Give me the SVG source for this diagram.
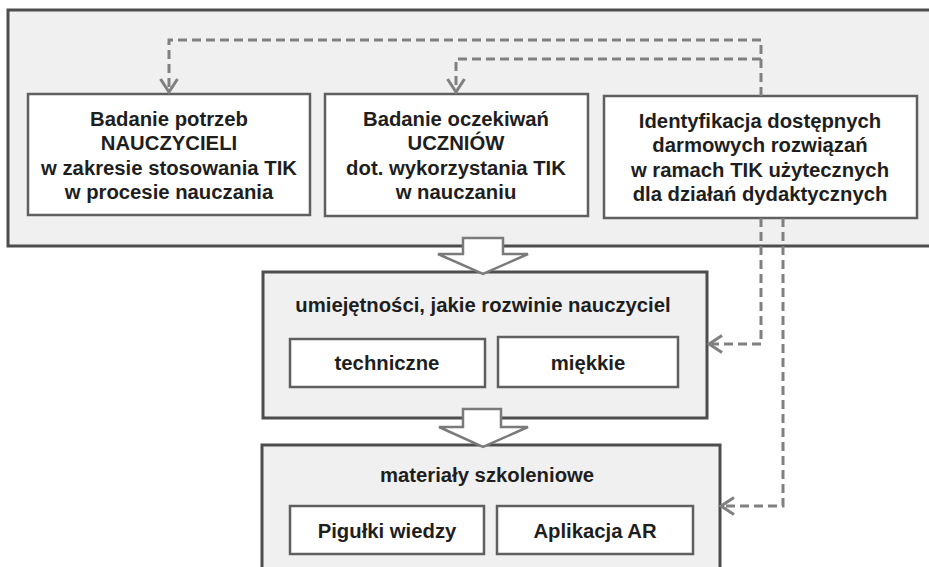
<svg xmlns="http://www.w3.org/2000/svg" width="929" height="567" viewBox="0 0 929 567">
<defs>
<style>
.panel{fill:#f0f0f0;stroke:#4d4d4d;stroke-width:3}
.box{fill:#ffffff;stroke:#5f5f5f;stroke-width:2.5}
.t{font-family:"Liberation Sans",Arial,sans-serif;font-weight:bold;font-size:20.3px;fill:#1e1e1e;text-anchor:middle}
.dash{fill:none;stroke:#808080;stroke-width:3;stroke-dasharray:9 5}
.block{fill:#ffffff;stroke:#7a7a7a;stroke-width:2.5;stroke-linejoin:miter}
</style>
<marker id="chev" markerUnits="userSpaceOnUse" markerWidth="20" markerHeight="22" viewBox="-15 -11 17 22" refX="0" refY="0" orient="auto">
<path d="M-13,-8.5 L0,0 L-13,8.5" fill="none" stroke="#808080" stroke-width="3"/>
</marker>
</defs>
<rect width="929" height="567" fill="#ffffff"/>

<g id="panel-top">
<rect class="panel" x="8" y="10" width="930" height="236"/>
</g>

<g id="node-nauczyciele">
<rect class="box" x="28" y="94" width="282" height="121"/>
<text class="t" x="169" y="126">Badanie potrzeb</text>
<text class="t" x="169" y="150">NAUCZYCIELI</text>
<text class="t" x="169" y="175">w zakresie stosowania TIK</text>
<text class="t" x="169" y="199">w procesie nauczania</text>
</g>

<g id="node-uczniowie">
<rect class="box" x="325" y="94" width="263" height="122"/>
<text class="t" x="456" y="126">Badanie oczekiwań</text>
<text class="t" x="456" y="150">UCZNIÓW</text>
<text class="t" x="456" y="175">dot. wykorzystania TIK</text>
<text class="t" x="456" y="199">w nauczaniu</text>
</g>

<g id="node-identyfikacja">
<rect class="box" x="604" y="96" width="313" height="122"/>
<text class="t" x="760" y="128">Identyfikacja dostępnych</text>
<text class="t" x="760" y="152">darmowych rozwiązań</text>
<text class="t" x="760" y="177">w ramach TIK użytecznych</text>
<text class="t" x="760" y="201">dla działań dydaktycznych</text>
</g>

<g id="node-umiejetnosci">
<rect class="panel" x="263" y="272" width="444" height="146"/>
<text class="t" x="483" y="312">umiejętności, jakie rozwinie nauczyciel</text>
</g>

<g id="node-techniczne">
<rect class="box" x="290" y="339" width="195" height="48"/>
<text class="t" x="387" y="370">techniczne</text>
</g>

<g id="node-miekkie">
<rect class="box" x="498" y="337" width="180" height="50"/>
<text class="t" x="588" y="370">miękkie</text>
</g>

<g id="node-materialy">
<rect class="panel" x="262" y="445" width="458" height="140"/>
<text class="t" x="487" y="482">materiały szkoleniowe</text>
</g>

<g id="node-pigulki">
<rect class="box" x="290" y="506" width="194" height="48"/>
<text class="t" x="387" y="538">Pigułki wiedzy</text>
</g>

<g id="node-aplikacja">
<rect class="box" x="497" y="506" width="196" height="48"/>
<text class="t" x="595" y="538">Aplikacja AR</text>
</g>

<g id="connectors">
<path class="block" d="M463,238 H503 V254 H528 L483,274 L438,254 H463 Z"/>
<path class="block" d="M463,409 H501 V427 H528 L483,447 L439,427 H463 Z"/>
<path class="dash" d="M761,96 V40 H169 V92" marker-end="url(#chev)"/>
<path class="dash" d="M761,59 H456 V92" marker-end="url(#chev)"/>
<path class="dash" d="M761,218 V344 H709" marker-end="url(#chev)"/>
<path class="dash" d="M783,218 V506 H721" marker-end="url(#chev)"/>
</g>
</svg>
